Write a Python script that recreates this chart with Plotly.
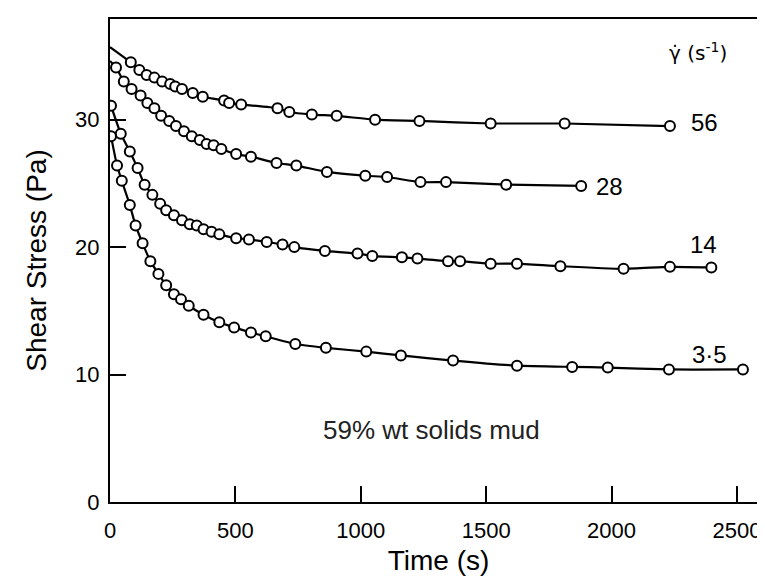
import plotly.graph_objects as go

# ---- data ----
t56 = [83, 117, 146, 177, 208, 240, 260, 287, 330, 370, 455, 475, 523, 668, 715, 805, 904, 1057, 1234, 1518, 1813, 2233]
s56 = [34.5, 33.9, 33.5, 33.3, 33.0, 32.8, 32.6, 32.4, 32.1, 31.8, 31.5, 31.3, 31.2, 30.9, 30.6, 30.4, 30.3, 30.0, 29.9, 29.7, 29.7, 29.5]

t28 = [24, 55, 86, 122, 149, 177, 204, 236, 263, 295, 326, 358, 385, 413, 444, 503, 562, 664, 743, 865, 1018, 1105, 1238, 1340, 1580, 1879]
s28 = [34.1, 33.0, 32.4, 31.9, 31.3, 30.9, 30.3, 29.9, 29.5, 29.1, 28.7, 28.4, 28.1, 28.0, 27.7, 27.3, 27.1, 26.6, 26.4, 25.9, 25.6, 25.5, 25.1, 25.1, 24.9, 24.8]

t14 = [4, 43, 79, 110, 138, 169, 200, 224, 255, 287, 318, 346, 373, 405, 436, 503, 554, 625, 688, 735, 857, 987, 1046, 1164, 1226, 1348, 1396, 1518, 1623, 1796, 2048, 2233, 2398]
s14 = [31.1, 28.9, 27.5, 26.2, 24.9, 24.1, 23.4, 22.9, 22.5, 22.1, 21.8, 21.7, 21.4, 21.2, 21.0, 20.7, 20.6, 20.4, 20.2, 20.0, 19.7, 19.5, 19.3, 19.2, 19.1, 18.9, 18.9, 18.7, 18.7, 18.5, 18.3, 18.45, 18.4]

t35 = [4, 28, 47, 79, 102, 130, 161, 193, 224, 255, 283, 314, 373, 436, 495, 562, 621, 739, 861, 1022, 1160, 1368, 1623, 1843, 1985, 2229, 2524]
s35 = [28.7, 26.4, 25.2, 23.3, 21.7, 20.3, 18.9, 17.9, 17.0, 16.3, 15.9, 15.4, 14.7, 14.1, 13.7, 13.3, 13.0, 12.4, 12.1, 11.8, 11.5, 11.1, 10.7, 10.6, 10.55, 10.4, 10.4]

# curve start values at t = 0 (line drawn from the axis)
start_56 = 35.7
start_28 = 34.6

rate_labels = ["56", "28", "14", "3·5"]
x_ticks = [0, 500, 1000, 1500, 2000, 2500]
y_ticks = [0, 10, 20, 30]

FONT = "Liberation Sans, Arial, Helvetica, sans-serif"

fig = go.Figure()

series = [
    ([0] + t56, [start_56] + s56, t56, s56),
    ([0] + t28, [start_28] + s28, t28, s28),
    (t14, s14, t14, s14),
    (t35, s35, t35, s35),
]
for lx, ly, mx, my in series:
    fig.add_trace(go.Scatter(x=lx, y=ly, mode="lines",
                             line=dict(color="black", width=2.2, shape="spline", smoothing=0.5),
                             hoverinfo="skip", showlegend=False))
    fig.add_trace(go.Scatter(x=mx, y=my, mode="markers",
                             marker=dict(symbol="circle", size=10, color="white",
                                         line=dict(color="black", width=2)),
                             showlegend=False))

label_pos = [(2370, 29.75), (1990, 24.75), (2365, 20.2), (2390, 11.6)]
for txt, (px, py) in zip(rate_labels, label_pos):
    fig.add_annotation(x=px, y=py, text=txt, showarrow=False, xanchor="center",
                       font=dict(family=FONT, size=24, color="black"))

fig.add_annotation(x=2345, y=35.3, text="γ\u0307 (s<sup>-1</sup>)", showarrow=False,
                   font=dict(family="DejaVu Sans, Liberation Sans, sans-serif", size=20, color="black"))
fig.add_annotation(x=1282, y=5.65, text="59% wt solids mud", showarrow=False,
                   font=dict(family=FONT, size=26, color="#222"))

axis_common = dict(showgrid=False, zeroline=False, showline=True, linecolor="black",
                   linewidth=2, mirror=True, ticks="inside", ticklen=16, tickwidth=2,
                   tickcolor="black", tickfont=dict(family=FONT, size=22, color="black"))

fig.update_xaxes(range=[0, 2620], tickvals=x_ticks, ticktext=[str(v) for v in x_ticks],
                 ticklabelstandoff=8,
                 title=dict(text="Time (s)", font=dict(family=FONT, size=28, color="black"),
                            standoff=8),
                 **axis_common)
fig.update_yaxes(range=[0, 37.9], tickvals=y_ticks, ticktext=[str(v) for v in y_ticks],
                 ticklabelstandoff=4,
                 title=dict(text="Shear Stress (Pa)", font=dict(family=FONT, size=28, color="black"),
                            standoff=20),
                 **axis_common)

fig.update_layout(width=765, height=580, margin=dict(l=102, r=4, t=11, b=86),
                  plot_bgcolor="white", paper_bgcolor="white")

fig.write_html("out.html")
